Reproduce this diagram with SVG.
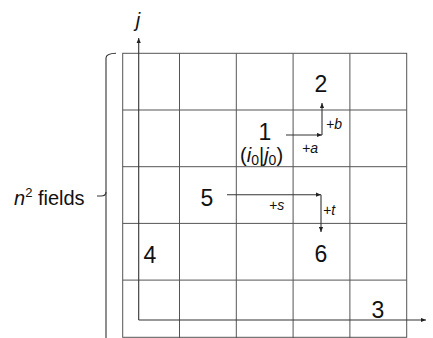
<svg xmlns="http://www.w3.org/2000/svg" width="433" height="338" viewBox="0 0 433 338">
<defs>
<marker id="ah" viewBox="0 0 6 6" refX="6" refY="3" markerWidth="5" markerHeight="5" orient="auto" markerUnits="userSpaceOnUse">
<path d="M0,0.5 L6,3 L0,5.5 z" fill="#222"/>
</marker>
</defs>
<style>
.grid{stroke:#555;stroke-width:1;fill:none}
.ax{stroke:#333;stroke-width:1.1;fill:none;marker-end:url(#ah)}
.num{font-family:"Liberation Sans","Open Sans",sans-serif;font-size:23px;fill:#111;text-anchor:middle}
.lab{font-family:"Liberation Sans","Open Sans",sans-serif;font-size:14px;font-style:italic;fill:#111}
.big{font-family:"Liberation Sans","Open Sans",sans-serif;font-size:20px;fill:#111}
</style>
<rect width="433" height="338" fill="#fff"/>
<g id="grid" class="grid">
<rect x="122.7" y="53.3" width="284" height="284"/>
<path d="M179.5,53.3V338M236.3,53.3V338M293.1,53.3V338M349.9,53.3V338M122.7,110H406.7M122.7,166.7H406.7M122.7,223.4H406.7M122.7,280.1H406.7"/>
</g>
<g id="brace" fill="none" stroke="#333" stroke-width="1.1">
<path d="M116,53.3 Q106,53.5 106,58 V338"/>
<path d="M106,192 Q106,196 101,196 H97"/>
</g>
<g id="label-fields">
<text class="big" x="14" y="205"><tspan font-style="italic">n</tspan><tspan font-size="13" dy="-8">2</tspan><tspan dy="8"> fields</tspan></text>
</g>
<g id="connectors">
<path class="ax" d="M138.7,320 V38"/>
<path class="ax" d="M138.7,320 H426"/>
<path class="ax" d="M286,135 H322"/>
<path class="ax" d="M322,135 V103"/>
<path class="ax" d="M227,194.7 H321"/>
<path class="ax" d="M321,194.7 V232"/>
</g>
<g id="axis-j"><text class="big" font-style="italic" x="138" y="27" text-anchor="middle">j</text></g>
<g id="n1"><text class="num" x="265" y="140">1</text>
<text class="big" x="240" y="162">(<tspan font-style="italic">i</tspan><tspan font-size="14" dy="3">0</tspan><tspan dy="-3">|</tspan><tspan font-style="italic">j</tspan><tspan font-size="14" dy="3">0</tspan><tspan dy="-3">)</tspan></text></g>
<g id="n2"><text class="num" x="321" y="92">2</text></g>
<g id="n3"><text class="num" x="378" y="318">3</text></g>
<g id="n4"><text class="num" x="150" y="263">4</text></g>
<g id="n5"><text class="num" x="207" y="206">5</text></g>
<g id="n6"><text class="num" x="321" y="262">6</text></g>
<g id="labels">
<text class="lab" x="326" y="129">+b</text>
<text class="lab" x="302" y="153">+a</text>
<text class="lab" x="269" y="210">+s</text>
<text class="lab" x="323" y="215">+t</text>
</g>
</svg>
